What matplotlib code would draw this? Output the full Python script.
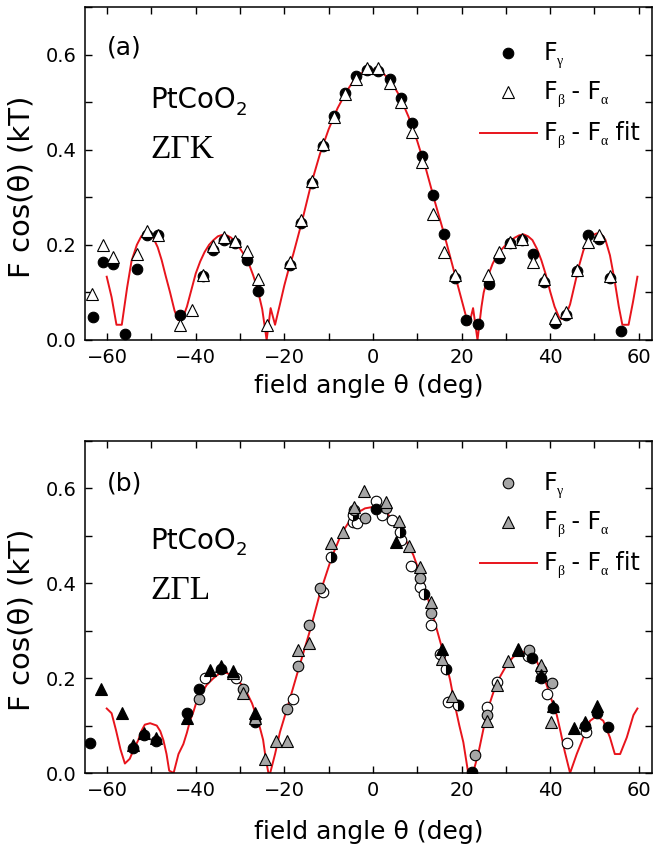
import matplotlib
matplotlib.use('Agg')
import matplotlib.pyplot as plt
from matplotlib.ticker import MultipleLocator, FormatStrFormatter

plt.rcParams['font.family'] = ['DejaVu Sans']

# ---------- panel (a): Z-Gamma-K ----------
a_gam_x = [-63.3, -60.9, -58.6, -56.0, -53.3, -50.9, -48.5, -43.6, -38.4, -36.0,
           -33.6, -31.2, -28.5, -26.0, -18.7, -16.3, -13.8, -11.2, -8.7, -6.2,
           -3.8, -1.3, 1.2, 3.8, 6.3, 8.8, 11.1, 13.6, 16.1, 18.5,
           21.1, 23.6, 26.3, 28.5, 30.9, 33.6, 36.2, 38.6, 41.1, 43.5,
           46.0, 48.6, 51.0, 53.5, 56.0]
a_gam_y = [0.048, 0.164, 0.160, 0.013, 0.150, 0.221, 0.220, 0.053, 0.134, 0.190,
           0.210, 0.203, 0.168, 0.104, 0.158, 0.246, 0.330, 0.407, 0.470, 0.520,
           0.555, 0.568, 0.566, 0.548, 0.508, 0.456, 0.386, 0.305, 0.223, 0.130,
           0.042, 0.034, 0.118, 0.173, 0.204, 0.210, 0.180, 0.122, 0.036, 0.053,
           0.145, 0.220, 0.212, 0.130, 0.019]

a_ba_x = [-63.5, -61.0, -58.6, -53.3, -50.9, -48.5, -43.6, -40.9, -38.4, -36.0,
          -33.6, -31.2, -28.5, -26.0, -23.9, -18.7, -16.3, -13.8, -11.2, -8.7,
          -6.2, -3.8, -1.4, 1.2, 3.8, 6.3, 8.8, 11.1, 13.6, 16.1,
          18.5, 26.0, 28.5, 30.9, 33.6, 36.2, 38.6, 41.1, 43.5, 46.0,
          48.6, 51.0, 53.5]
a_ba_y = [0.096, 0.200, 0.174, 0.181, 0.229, 0.221, 0.032, 0.062, 0.137, 0.197,
          0.217, 0.208, 0.187, 0.129, 0.032, 0.163, 0.252, 0.335, 0.412, 0.468,
          0.518, 0.548, 0.572, 0.572, 0.540, 0.500, 0.437, 0.375, 0.265, 0.186,
          0.137, 0.137, 0.186, 0.206, 0.213, 0.164, 0.128, 0.047, 0.058, 0.148,
          0.205, 0.221, 0.134]

a_fit_x = [-60.1, -59.0, -57.9, -56.7, -55.5, -54.5, -53.3, -52.3, -51.5, -50.5,
           -49.6, -48.6, -47.7, -46.8, -45.8, -44.8, -44.0, -43.0, -42.0, -41.0,
           -40.0, -39.0, -38.0, -37.0, -36.0, -35.0, -34.0, -33.0, -32.0, -31.0,
           -30.0, -29.0, -28.0, -27.0, -26.0, -25.0, -24.0, -23.1, -22.1, -21.0,
           -20.0, -19.0, -18.0, -16.0, -14.0, -12.0, -10.0, -8.0, -6.0, -4.0,
           -2.0, 0.0, 2.0, 4.0, 6.0, 8.0, 10.0, 12.0, 14.0, 16.0,
           18.0, 19.0, 20.0, 21.0, 21.7, 22.6, 23.6, 24.5, 25.0, 26.0,
           27.0, 28.0, 29.0, 30.0, 31.0, 32.0, 33.0, 34.0, 35.0, 36.0,
           37.0, 38.0, 39.0, 40.0, 41.0, 42.0, 42.6, 43.5, 44.5, 45.5,
           46.5, 47.5, 48.5, 49.5, 50.5, 51.5, 52.5, 53.5, 54.5, 55.5,
           56.3, 57.7, 58.7, 59.7]
a_fit_y = [0.133, 0.090, 0.032, 0.032, 0.110, 0.166, 0.200, 0.218, 0.224, 0.224,
           0.215, 0.195, 0.168, 0.135, 0.100, 0.062, 0.042, 0.045, 0.070, 0.105,
           0.140, 0.165, 0.185, 0.200, 0.210, 0.218, 0.221, 0.220, 0.215, 0.205,
           0.192, 0.178, 0.160, 0.135, 0.105, 0.065, 0.000, 0.067, 0.032, 0.075,
           0.115, 0.150, 0.180, 0.250, 0.326, 0.390, 0.443, 0.487, 0.522, 0.550,
           0.565, 0.568, 0.563, 0.545, 0.513, 0.470, 0.418, 0.358, 0.290, 0.225,
           0.155, 0.120, 0.085, 0.050, 0.032, 0.067, 0.000, 0.070, 0.100, 0.135,
           0.160, 0.178, 0.190, 0.200, 0.208, 0.215, 0.220, 0.222, 0.218, 0.210,
           0.192, 0.168, 0.138, 0.102, 0.070, 0.048, 0.044, 0.050, 0.075, 0.115,
           0.155, 0.188, 0.210, 0.220, 0.224, 0.223, 0.210, 0.178, 0.128, 0.070,
           0.032, 0.032, 0.080, 0.133]

# ---------- panel (b): Z-Gamma-L ----------
b_gam_x = [-39.2, -29.4, -19.3, -16.9, -14.4, -12.0, -4.3, -1.8, 2.9, 10.6,
           13.0, 23.0, 25.8, 35.3, 37.9, 40.5]
b_gam_y = [0.157, 0.178, 0.134, 0.225, 0.312, 0.391, 0.554, 0.538, 0.559, 0.412,
           0.338, 0.038, 0.122, 0.259, 0.218, 0.189]

b_ba_x = [-31.7, -29.4, -26.6, -24.4, -21.9, -19.3, -16.9, -14.4, -9.5, -6.8,
          -4.3, -2.0, 2.9, 5.9, 8.2, 10.6, 13.0, 15.5, 17.8, 25.8,
          28.1, 30.4, 32.8, 37.9, 40.3]
b_ba_y = [0.210, 0.168, 0.117, 0.029, 0.067, 0.067, 0.260, 0.274, 0.485, 0.509,
          0.560, 0.594, 0.571, 0.531, 0.478, 0.434, 0.361, 0.241, 0.162, 0.110,
          0.185, 0.236, 0.259, 0.227, 0.108]

# other field sweeps (no legend entry)
b_tri_k_x = [-61.5, -56.7, -54.1, -51.7, -49.0, -41.9, -36.8, -34.2, -31.7, -26.6,
             5.3, 15.5, 32.8, 37.9, 40.6, 45.4, 47.9, 50.5]
b_tri_k_y = [0.178, 0.126, 0.059, 0.085, 0.074, 0.115, 0.218, 0.225, 0.215, 0.127,
             0.487, 0.261, 0.262, 0.206, 0.141, 0.094, 0.108, 0.141]

b_circ_k_x = [-63.9, -54.1, -51.7, -49.0, -41.9, -39.2, -34.2, -26.6, 0.6, 22.3,
              35.8, 37.9, 40.6, 47.9, 50.5, 53.1]
b_circ_k_y = [0.063, 0.052, 0.081, 0.068, 0.127, 0.178, 0.220, 0.108, 0.557, 0.003,
              0.243, 0.200, 0.138, 0.100, 0.127, 0.098]

b_circ_o_x = [-37.9, -30.9, -18.0, -11.2, -4.6, -3.7, 0.6, 2.0, 4.2, 6.3,
              8.6, 10.6, 13.0, 15.2, 17.0, 25.8, 28.1, 34.9, 39.3, 43.7, 48.0]
b_circ_o_y = [0.200, 0.201, 0.157, 0.382, 0.529, 0.527, 0.573, 0.545, 0.533, 0.492,
              0.436, 0.392, 0.313, 0.250, 0.150, 0.140, 0.192, 0.246, 0.166, 0.064, 0.086]

b_circ_h_x = [-9.5, -4.6, 6.1, 11.6, 16.4, 19.3]
b_circ_h_y = [0.455, 0.545, 0.509, 0.378, 0.220, 0.143]

b_fit_x = [-60.1, -59.0, -58.0, -57.0, -56.0, -54.9, -54.0, -53.0, -52.2, -51.5,
           -50.3, -48.8, -48.0, -47.3, -46.6, -46.0, -45.0, -43.9, -42.8, -42.0,
           -41.3, -40.5, -39.8, -38.6, -37.5, -36.0, -34.5, -33.0, -31.8, -30.8,
           -29.6, -28.5, -27.3, -26.3, -25.5, -24.8, -24.2, -23.6, -23.2, -22.1,
           -21.0, -19.1, -16.9, -14.2, -12.0, -9.3, -7.1, -4.4, -1.8, 0.0,
           2.3, 4.6, 6.8, 9.1, 11.4, 13.6, 15.9, 17.4, 18.5, 19.5,
           20.4, 21.5, 22.6, 23.8, 25.3, 26.4, 27.5, 28.8, 30.2, 31.5,
           32.8, 34.7, 36.0, 37.0, 38.1, 39.2, 40.3, 41.5, 42.4, 43.3,
           44.5, 46.0, 47.5, 49.0, 50.5, 52.0, 53.5, 54.6, 55.8, 57.3,
           58.8, 59.7]
b_fit_y = [0.136, 0.126, 0.090, 0.050, 0.020, 0.030, 0.050, 0.069, 0.090, 0.102,
           0.105, 0.100, 0.088, 0.069, 0.040, 0.005, 0.000, 0.040, 0.061, 0.085,
           0.110, 0.130, 0.151, 0.170, 0.186, 0.200, 0.211, 0.211, 0.205, 0.198,
           0.186, 0.170, 0.147, 0.120, 0.095, 0.070, 0.030, 0.000, 0.000, 0.040,
           0.086, 0.145, 0.216, 0.301, 0.378, 0.455, 0.505, 0.544, 0.558, 0.561,
           0.556, 0.533, 0.502, 0.460, 0.400, 0.330, 0.253, 0.197, 0.143, 0.100,
           0.065, 0.000, 0.000, 0.042, 0.109, 0.148, 0.179, 0.205, 0.228, 0.243,
           0.253, 0.256, 0.248, 0.235, 0.212, 0.186, 0.155, 0.122, 0.085, 0.045,
           0.000, 0.040, 0.075, 0.110, 0.120, 0.110, 0.075, 0.040, 0.040, 0.075,
           0.122, 0.136]

RED = '#e8141c'
GRAY = '#a6a6a6'
MS = 7.6
SANS = 'DejaVu Sans'
SERIF = 'Liberation Serif'

fig = plt.figure(figsize=(6.54, 8.59), dpi=100)
ax_a = fig.add_axes([0.130, 0.6042, 0.867, 0.3877])
ax_b = fig.add_axes([0.130, 0.1001, 0.867, 0.3865])


def style_axes(ax, xpad):
    ax.set_xlim(-65, 63)
    ax.set_ylim(0, 0.7)
    ax.xaxis.set_major_locator(MultipleLocator(20))
    ax.xaxis.set_minor_locator(MultipleLocator(10))
    ax.yaxis.set_major_locator(MultipleLocator(0.2))
    ax.yaxis.set_minor_locator(MultipleLocator(0.1))
    ax.yaxis.set_major_formatter(FormatStrFormatter('%.1f'))
    ax.tick_params(which='both', direction='in', top=True, right=True,
                   length=5, width=1.0, labelsize=14, pad=6)
    for s in ax.spines.values():
        s.set_linewidth(1.1)
    ax.set_xlabel('field angle θ (deg)', fontsize=18, labelpad=xpad)
    ax.set_ylabel('F cos(θ) (kT)', fontsize=21)
    ax.yaxis.set_label_coords(-0.088, 0.46)


def chain_text(ax, x, y, pieces):
    # pieces: (text, fontsize, dy in points, family); first piece anchors the row
    txt, size, dy, fam = pieces[0]
    first = ax.text(x, y, txt, transform=ax.transAxes, fontsize=size,
                    va='center', ha='left', family=fam)
    prev = first
    for txt, size, dy, fam in pieces[1:]:
        prev = ax.annotate(txt, xy=(1, 0), xycoords=(prev, first),
                           xytext=(0, dy), textcoords='offset points',
                           fontsize=size, va='bottom', ha='left', family=fam)
    return first


def legend_rows(ax, rows, fc_circ, fc_tri):
    ax.plot([0.746], [rows[0]], marker='o', ms=MS, mfc=fc_circ, mec='black', mew=0.8,
            ls='none', transform=ax.transAxes, clip_on=False)
    ax.plot([0.746], [rows[1]], marker='^', ms=MS + 0.6, mfc=fc_tri, mec='black', mew=0.8,
            ls='none', transform=ax.transAxes, clip_on=False)
    ax.plot([0.697, 0.797], [rows[2], rows[2]], color=RED, lw=1.4,
            transform=ax.transAxes, clip_on=False)
    sub = -2.2
    chain_text(ax, 0.808, rows[0], [('F', 17, 0, SANS), ('γ', 10, sub, SERIF)])
    chain_text(ax, 0.808, rows[1], [('F', 17, 0, SANS), ('β', 10, sub, SERIF),
                                    (' - F', 17, 0, SANS), ('α', 10, sub, SERIF)])
    chain_text(ax, 0.808, rows[2], [('F', 17, 0, SANS), ('β', 10, sub, SERIF),
                                    (' - F', 17, 0, SANS), ('α', 10, sub, SERIF),
                                    (' fit', 17, 0, SANS)])


# panel (a)
ax_a.plot(a_fit_x, a_fit_y, color=RED, lw=1.4, zorder=2)
ax_a.plot(a_gam_x, a_gam_y, 'o', ms=MS, mfc='black', mec='black', mew=0.8, zorder=3)
ax_a.plot(a_ba_x, a_ba_y, '^', ms=MS + 0.6, mfc='white', mec='black', mew=0.8, zorder=4)
style_axes(ax_a, 5)
ax_a.text(0.039, 0.877, '(a)', transform=ax_a.transAxes, fontsize=18, va='center')
chain_text(ax_a, 0.115, 0.72, [('PtCoO', 20, 0, SANS), ('2', 13, -3.5, SANS)])
ax_a.text(0.115, 0.57, 'ZΓK', transform=ax_a.transAxes, fontsize=24, va='center',
          family=SERIF)
legend_rows(ax_a, [0.862, 0.745, 0.622], 'black', 'white')

# panel (b)
ax_b.plot(b_fit_x, b_fit_y, color=RED, lw=1.4, zorder=2)
ax_b.plot(b_circ_o_x, b_circ_o_y, 'o', ms=MS, mfc='white', mec='black', mew=0.8, zorder=3)
ax_b.plot(b_circ_h_x, b_circ_h_y, 'o', ms=MS, fillstyle='right', mfc='black',
          mfcalt='white', mec='black', mew=0.8, zorder=3)
ax_b.plot(b_gam_x, b_gam_y, 'o', ms=MS, mfc=GRAY, mec='black', mew=0.8, zorder=3)
ax_b.plot(b_circ_k_x, b_circ_k_y, 'o', ms=MS, mfc='black', mec='black', mew=0.8, zorder=3)
ax_b.plot(b_ba_x, b_ba_y, '^', ms=MS + 0.6, mfc=GRAY, mec='black', mew=0.8, zorder=4)
ax_b.plot(b_tri_k_x, b_tri_k_y, '^', ms=MS + 0.6, mfc='black', mec='black', mew=0.8, zorder=4)
style_axes(ax_b, 14)
ax_b.text(0.039, 0.873, '(b)', transform=ax_b.transAxes, fontsize=18, va='center')
chain_text(ax_b, 0.115, 0.70, [('PtCoO', 20, 0, SANS), ('2', 13, -3.5, SANS)])
ax_b.text(0.115, 0.55, 'ZΓL', transform=ax_b.transAxes, fontsize=24, va='center',
          family=SERIF)
legend_rows(ax_b, [0.873, 0.756, 0.633], GRAY, GRAY)

fig.savefig('out.png', dpi=100, facecolor='white')
